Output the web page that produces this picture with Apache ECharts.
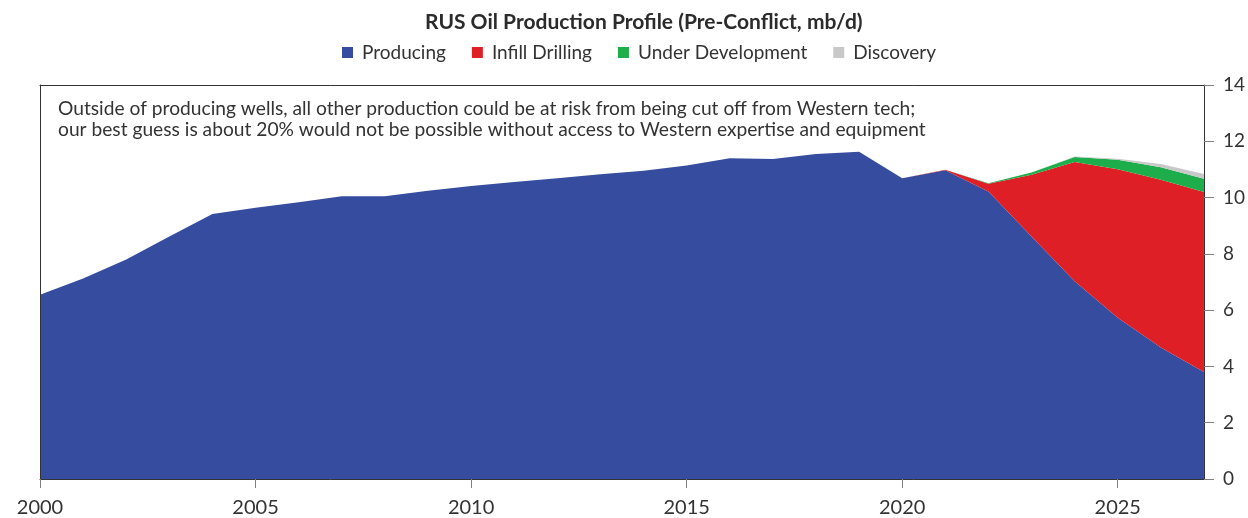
<!DOCTYPE html>
<html>
<head>
<meta charset="utf-8">
<script src="https://cdn.jsdelivr.net/npm/echarts@6/dist/echarts.min.js"></script>
<style>
html,body{margin:0;padding:0;background:#fff;}
#chart{width:1248px;height:518px;}
</style>
</head>
<body>
<div id="chart"></div>
<script>
const years = [2000,2001,2002,2003,2004,2005,2006,2007,2008,2009,2010,2011,2012,2013,2014,2015,2016,2017,2018,2019,2020,2021,2022,2023,2024,2025,2026,2027];
const producing = [6.55,7.12,7.80,8.62,9.42,9.64,9.83,10.05,10.05,10.24,10.41,10.55,10.69,10.83,10.95,11.14,11.40,11.37,11.55,11.63,10.69,10.97,10.22,8.62,7.03,5.73,4.67,3.80];
const infillDrilling = [0,0,0,0,0,0,0,0,0,0,0,0,0,0,0,0,0,0,0,0,0,0.02,0.27,2.19,4.23,5.28,5.96,6.40];
const underDevelopment = [0,0,0,0,0,0,0,0,0,0,0,0,0,0,0,0,0,0,0,0,0,0,0.02,0.08,0.18,0.33,0.45,0.47];
const discovery = [0,0,0,0,0,0,0,0,0,0,0,0,0,0,0,0,0,0,0,0,0,0,0,0,0.02,0.04,0.11,0.17];
const yTicks = [0,2,4,6,8,10,12,14];

const FONT = 'Lato';
const TXT = '#333333';
const chart = echarts.init(document.getElementById('chart'), null, {renderer:'canvas'});

function areaSeries(name, data, color){
  return {
    name: name, type: 'line', stack: 'total', data: data,
    symbol: 'none', showSymbol: false,
    lineStyle: {width: 0},
    areaStyle: {color: color, opacity: 1},
    itemStyle: {color: color},
    emphasis: {disabled: true},
    z: 2
  };
}

chart.setOption({
  animation: false,
  backgroundColor: '#ffffff',
  textStyle: {fontFamily: FONT, color: TXT},
  title: {
    text: 'RUS Oil Production Profile (Pre-Conflict, mb/d)',
    left: 420, top: 7,
    textStyle: {fontFamily: FONT, fontSize: 21, fontWeight: 'bold', color: '#2b2b2b'}
  },
  legend: {
    top: 38, left: 337,
    icon: 'rect', itemWidth: 11, itemHeight: 11, itemGap: 26,
    textStyle: {fontFamily: FONT, fontSize: 19, color: TXT, padding: [0,0,0,4]},
    data: ['Producing','Infill Drilling','Under Development','Discovery']
  },
  grid: {left: 40, right: 44, top: 85, bottom: 38, containLabel: false},
  graphic: [{
    type: 'text', left: 58, top: 98, z: 10,
    style: {
      text: 'Outside of producing wells, all other production could be at risk from being cut off from Western tech;\nour best guess is about 20% would not be possible without access to Western expertise and equipment',
      font: '19.2px ' + FONT, fill: '#333333', lineHeight: 21
    }
  }],
  xAxis: [{
    type: 'category', data: years, boundaryGap: false, position: 'bottom', z: 5,
    axisLine: {show: true, onZero: false, lineStyle: {color: '#333333', width: 1}},
    axisTick: {show: true, inside: false, length: 9, interval: 4, alignWithLabel: true, lineStyle: {color: '#808080'}},
    axisLabel: {interval: 4, fontFamily: FONT, fontSize: 20, color: TXT, margin: 19},
    splitLine: {show: false}
  },{
    type: 'category', data: years, boundaryGap: false, position: 'top', z: 5,
    axisLine: {show: true, onZero: false, lineStyle: {color: '#333333', width: 1}},
    axisTick: {show: false}, axisLabel: {show: false}, splitLine: {show: false}
  }],
  yAxis: [{
    type: 'value', position: 'right', min: 0, max: 14, interval: 2, z: 5,
    axisLine: {show: true, onZero: false, lineStyle: {color: '#333333', width: 1}},
    axisTick: {show: true, inside: false, length: 10, lineStyle: {color: '#808080'}},
    axisLabel: {fontFamily: FONT, fontSize: 19, color: TXT, margin: 19,
      formatter: function(v){ return yTicks.indexOf(v) >= 0 ? String(v) : ''; }},
    splitLine: {show: false}
  },{
    type: 'value', position: 'left', min: 0, max: 14, interval: 2, z: 5,
    axisLine: {show: true, onZero: false, lineStyle: {color: '#333333', width: 1}},
    axisTick: {show: false}, axisLabel: {show: false}, splitLine: {show: false}
  }],
  series: [
    areaSeries('Producing', producing, '#354c9f'),
    areaSeries('Infill Drilling', infillDrilling, '#de1f26'),
    areaSeries('Under Development', underDevelopment, '#1dae4b'),
    areaSeries('Discovery', discovery, '#c8c8c8')
  ]
});
</script>
</body>
</html>
